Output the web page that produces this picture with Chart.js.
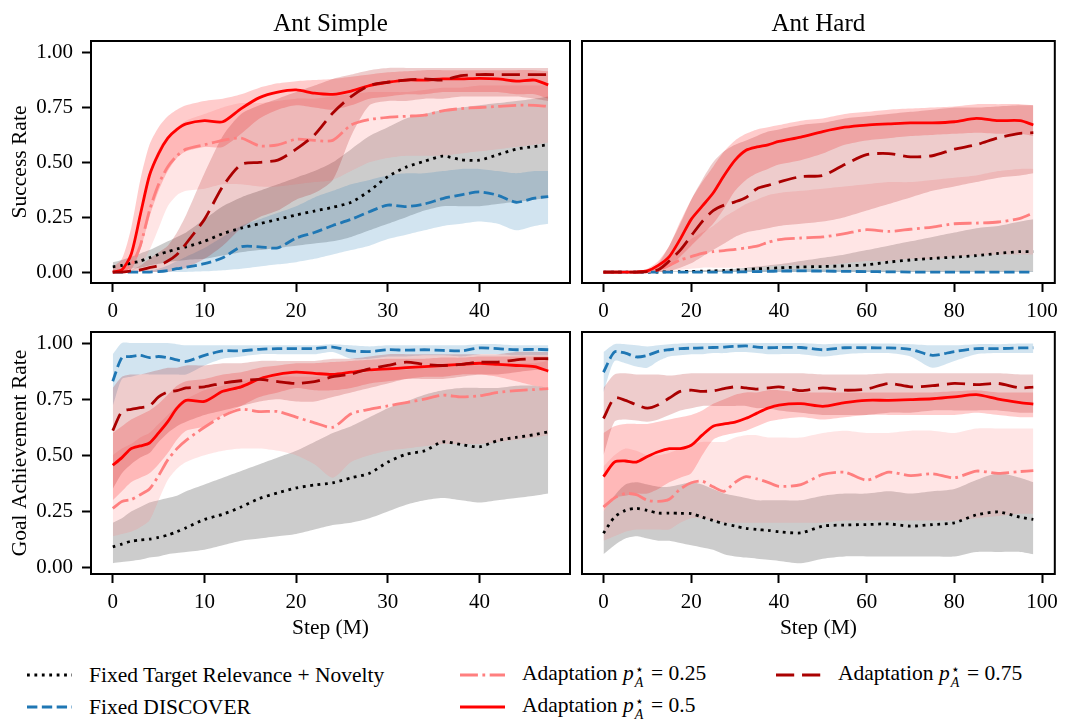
<!DOCTYPE html>
<html>
<head>
<meta charset="utf-8">
<script src="https://cdn.jsdelivr.net/npm/chart.js@4.4.1/dist/chart.umd.min.js"></script>
<style>
  body { margin: 0; background: #fff; width: 1065px; height: 721px; overflow: hidden; position: relative;
         font-family: "Liberation Serif", "Times New Roman", serif; }
  canvas { position: absolute; }
  .key { position: absolute; height: 30px; display: flex; align-items: center; font-size: 21.5px; color: #000; white-space: nowrap; }
  .key svg { margin-right: 17px; }
  .ss { display: inline-flex; flex-direction: column; font-size: 14px; line-height: 13px; vertical-align: 6px; margin: 0 2px 0 1px; }
  .ss .dn { font-style: italic; }
</style>
</head>
<body>
<canvas id="simpleSuccess" width="572" height="325" style="left:0;top:0"></canvas>
<canvas id="hardSuccess" width="495" height="325" style="left:570px;top:0"></canvas>
<canvas id="simpleGoal" width="572" height="340" style="left:0;top:310px"></canvas>
<canvas id="hardGoal" width="495" height="340" style="left:570px;top:310px"></canvas>
<div id="legend"></div>
<script>
// training steps (millions)
const simpleSteps = [0,1,2,3,4,5,6,7,8,10,12,14,16,18,20,22,24,26,28,30,32,34,36,38,40,42,44,46,47.5];
const hardSteps = [0,2.5,5,7.5,10,12.5,15,17.5,20,22.5,25,27.5,30,32.5,35,37.5,40,45,50,55,60,65,70,75,80,85,90,95,98];

const methodNames = ['Fixed Target Relevance + Novelty', 'Fixed DISCOVER', 'Adaptation', 'Adaptation', 'Adaptation'];
const adaptTargets = [null, null, '0.25', '0.5', '0.75'];

// Ant Simple - success rate
const simpleSuccessTrn   = [0.024,0.03,0.04,0.05,0.065,0.08,0.093,0.105,0.115,0.14,0.175,0.2,0.22,0.24,0.26,0.278,0.295,0.318,0.37,0.435,0.478,0.505,0.528,0.512,0.51,0.535,0.56,0.572,0.58];
const simpleSuccessTrnLo = [0.005,0.01,0.015,0.02,0.03,0.038,0.045,0.05,0.055,0.06,0.075,0.09,0.1,0.11,0.12,0.13,0.14,0.16,0.19,0.22,0.25,0.28,0.3,0.3,0.3,0.31,0.32,0.33,0.34];
const simpleSuccessTrnHi = [0.045,0.055,0.07,0.085,0.1,0.12,0.14,0.16,0.18,0.24,0.3,0.34,0.37,0.4,0.43,0.46,0.5,0.56,0.62,0.66,0.7,0.72,0.74,0.75,0.76,0.77,0.78,0.79,0.8];
const simpleSuccessDisc   = [0,0,0,0,0,0.002,0.007,0.015,0.022,0.038,0.065,0.115,0.115,0.11,0.155,0.18,0.212,0.24,0.275,0.305,0.298,0.31,0.335,0.352,0.365,0.35,0.318,0.337,0.344];
const simpleSuccessDiscLo = [0,0,0,0,0,0,0,0,0,0.003,0.008,0.015,0.025,0.035,0.045,0.06,0.08,0.1,0.12,0.15,0.17,0.19,0.21,0.22,0.23,0.22,0.19,0.21,0.22];
const simpleSuccessDiscHi = [0,0,0,0.002,0.005,0.015,0.03,0.05,0.07,0.11,0.16,0.21,0.24,0.27,0.3,0.34,0.37,0.4,0.42,0.44,0.45,0.45,0.46,0.47,0.47,0.46,0.45,0.46,0.46];
const simpleSuccessA25   = [0,0.005,0.03,0.12,0.28,0.4,0.48,0.53,0.56,0.58,0.6,0.61,0.575,0.58,0.605,0.6,0.6,0.67,0.695,0.705,0.71,0.715,0.735,0.745,0.75,0.755,0.76,0.76,0.755];
const simpleSuccessA25Lo = [0,0,0.005,0.03,0.1,0.2,0.3,0.35,0.37,0.38,0.4,0.4,0.39,0.39,0.4,0.41,0.42,0.46,0.5,0.52,0.53,0.53,0.53,0.54,0.55,0.56,0.57,0.58,0.59];
const simpleSuccessA25Hi = [0.002,0.02,0.08,0.25,0.45,0.56,0.62,0.66,0.69,0.72,0.75,0.77,0.77,0.78,0.79,0.79,0.8,0.81,0.82,0.82,0.82,0.83,0.84,0.84,0.85,0.85,0.85,0.85,0.85];
const simpleSuccessA50   = [0,0.01,0.08,0.26,0.44,0.54,0.61,0.65,0.675,0.69,0.685,0.745,0.795,0.82,0.83,0.815,0.81,0.825,0.85,0.865,0.875,0.875,0.88,0.88,0.883,0.88,0.87,0.875,0.853];
const simpleSuccessA50Lo = [0,0,0.01,0.1,0.25,0.37,0.46,0.52,0.55,0.57,0.57,0.63,0.7,0.74,0.76,0.75,0.74,0.76,0.79,0.8,0.81,0.81,0.82,0.82,0.82,0.82,0.81,0.81,0.79];
const simpleSuccessA50Hi = [0.02,0.06,0.2,0.42,0.58,0.66,0.71,0.74,0.76,0.78,0.79,0.81,0.84,0.86,0.87,0.875,0.88,0.89,0.9,0.91,0.915,0.92,0.92,0.92,0.92,0.92,0.92,0.92,0.915];
const simpleSuccessA75   = [0,0,0.005,0.01,0.02,0.03,0.05,0.08,0.13,0.24,0.39,0.49,0.5,0.51,0.56,0.625,0.725,0.8,0.85,0.865,0.875,0.88,0.875,0.895,0.9,0.9,0.9,0.9,0.9];
const simpleSuccessA75Lo = [0,0,0,0,0,0,0,0.01,0.02,0.06,0.12,0.2,0.25,0.28,0.33,0.36,0.42,0.62,0.76,0.78,0.78,0.79,0.79,0.8,0.8,0.8,0.8,0.79,0.78];
const simpleSuccessA75Hi = [0,0.003,0.01,0.03,0.06,0.09,0.12,0.18,0.26,0.45,0.62,0.72,0.76,0.79,0.82,0.85,0.88,0.9,0.92,0.93,0.93,0.93,0.93,0.93,0.93,0.93,0.93,0.93,0.93];

// Ant Hard - success rate
const hardSuccessTrn   = [0,0,0,0,0,0,0.001,0.002,0.003,0.004,0.005,0.007,0.009,0.012,0.015,0.017,0.019,0.023,0.025,0.028,0.033,0.045,0.055,0.062,0.068,0.075,0.085,0.093,0.093];
const hardSuccessTrnLo = [0,0,0,0,0,0,0,0,0,0,0,0,0,0,0,0,0,0,0,0,0,0,0,0,0,0,0,0,0];
const hardSuccessTrnHi = [0,0,0,0,0.001,0.002,0.003,0.004,0.006,0.008,0.01,0.012,0.015,0.02,0.025,0.03,0.035,0.05,0.065,0.08,0.1,0.12,0.14,0.16,0.18,0.2,0.21,0.23,0.24];
const hardSuccessDisc   = [0,0,0,0,0,0,0,0,0,0,0,0,0,0.001,0.002,0.003,0.004,0.005,0.004,0.003,0.002,0.001,0,0,0,0,0,0,0];
const hardSuccessDiscLo = [0,0,0,0,0,0,0,0,0,0,0,0,0,0,0,0,0,0,0,0,0,0,0,0,0,0,0,0,0];
const hardSuccessDiscHi = [0,0,0,0,0,0,0,0.001,0.002,0.003,0.004,0.005,0.006,0.008,0.01,0.012,0.013,0.014,0.012,0.01,0.008,0.006,0.004,0.003,0.002,0.002,0.002,0.002,0.002];
const hardSuccessA25   = [0,0,0,0,0.003,0.01,0.03,0.055,0.07,0.085,0.093,0.098,0.103,0.11,0.118,0.135,0.148,0.155,0.16,0.175,0.193,0.185,0.195,0.205,0.22,0.223,0.228,0.245,0.27];
const hardSuccessA25Lo = [0,0,0,0,0,0,0.005,0.01,0.015,0.02,0.02,0.02,0.02,0.02,0.02,0.025,0.03,0.03,0.03,0.04,0.05,0.05,0.06,0.06,0.07,0.075,0.08,0.08,0.08];
const hardSuccessA25Hi = [0,0,0.001,0.002,0.01,0.03,0.07,0.11,0.15,0.18,0.21,0.25,0.28,0.31,0.33,0.35,0.36,0.37,0.38,0.39,0.4,0.41,0.41,0.42,0.43,0.44,0.46,0.47,0.47];
const hardSuccessA50   = [0,0,0,0,0.005,0.03,0.07,0.15,0.24,0.3,0.36,0.44,0.51,0.555,0.57,0.58,0.595,0.615,0.64,0.66,0.67,0.675,0.68,0.68,0.685,0.7,0.69,0.69,0.67];
const hardSuccessA50Lo = [0,0,0,0,0,0.01,0.025,0.07,0.12,0.17,0.22,0.29,0.37,0.42,0.45,0.47,0.49,0.51,0.54,0.58,0.6,0.61,0.62,0.625,0.63,0.635,0.63,0.63,0.62];
const hardSuccessA50Hi = [0,0.001,0.002,0.005,0.015,0.05,0.12,0.23,0.33,0.41,0.48,0.55,0.6,0.63,0.65,0.66,0.67,0.69,0.7,0.72,0.73,0.74,0.745,0.75,0.755,0.765,0.765,0.765,0.76];
const hardSuccessA75   = [0,0,0,0,0.002,0.01,0.05,0.1,0.165,0.23,0.28,0.305,0.32,0.34,0.38,0.395,0.41,0.435,0.44,0.49,0.535,0.54,0.525,0.53,0.56,0.58,0.612,0.632,0.635];
const hardSuccessA75Lo = [0,0,0,0,0,0,0.005,0.02,0.04,0.07,0.1,0.13,0.16,0.18,0.19,0.2,0.21,0.22,0.23,0.25,0.28,0.31,0.34,0.37,0.39,0.41,0.43,0.44,0.45];
const hardSuccessA75Hi = [0,0.001,0.002,0.005,0.01,0.04,0.12,0.22,0.33,0.42,0.5,0.55,0.58,0.6,0.62,0.64,0.65,0.67,0.68,0.7,0.71,0.72,0.73,0.74,0.75,0.75,0.755,0.76,0.76];

// Ant Simple - goal achievement rate
const simpleGoalTrn   = [0.093,0.105,0.118,0.123,0.127,0.135,0.145,0.16,0.178,0.215,0.238,0.27,0.308,0.333,0.355,0.368,0.378,0.4,0.42,0.47,0.505,0.52,0.56,0.548,0.538,0.566,0.58,0.592,0.605];
const simpleGoalTrnLo = [0.02,0.025,0.03,0.035,0.045,0.05,0.06,0.065,0.07,0.08,0.1,0.12,0.13,0.14,0.15,0.17,0.19,0.2,0.22,0.25,0.28,0.3,0.31,0.3,0.29,0.3,0.31,0.32,0.33];
const simpleGoalTrnHi = [0.2,0.22,0.25,0.27,0.29,0.3,0.31,0.32,0.34,0.37,0.4,0.43,0.46,0.49,0.52,0.56,0.6,0.63,0.67,0.71,0.74,0.77,0.79,0.8,0.8,0.8,0.81,0.81,0.8];
const simpleGoalDisc   = [0.83,0.935,0.94,0.945,0.935,0.94,0.935,0.925,0.918,0.945,0.965,0.965,0.972,0.975,0.975,0.975,0.982,0.965,0.962,0.97,0.968,0.97,0.967,0.965,0.978,0.975,0.97,0.972,0.97];
const simpleGoalDiscLo = [0.72,0.84,0.85,0.86,0.86,0.86,0.86,0.86,0.86,0.9,0.93,0.94,0.95,0.95,0.95,0.95,0.96,0.93,0.93,0.94,0.94,0.945,0.945,0.94,0.95,0.95,0.945,0.945,0.945];
const simpleGoalDiscHi = [0.95,1,1,1,1,1,1,0.995,0.99,0.99,0.99,0.99,0.99,0.99,0.99,0.99,0.995,0.99,0.985,0.99,0.99,0.99,0.99,0.99,0.995,0.995,0.99,0.99,0.99];
const simpleGoalA25   = [0.264,0.295,0.303,0.325,0.35,0.41,0.48,0.53,0.567,0.625,0.675,0.705,0.695,0.695,0.67,0.645,0.625,0.685,0.705,0.72,0.735,0.75,0.768,0.76,0.765,0.78,0.788,0.793,0.797];
const simpleGoalA25Lo = [0.14,0.15,0.16,0.18,0.21,0.3,0.39,0.44,0.47,0.5,0.52,0.53,0.53,0.52,0.5,0.46,0.4,0.47,0.5,0.52,0.53,0.54,0.55,0.55,0.55,0.56,0.57,0.58,0.59];
const simpleGoalA25Hi = [0.5,0.53,0.55,0.58,0.6,0.64,0.68,0.72,0.75,0.79,0.81,0.83,0.84,0.85,0.85,0.85,0.85,0.86,0.87,0.88,0.88,0.89,0.9,0.9,0.9,0.91,0.91,0.91,0.92];
const simpleGoalA50   = [0.456,0.49,0.53,0.542,0.555,0.6,0.65,0.71,0.745,0.74,0.785,0.805,0.84,0.86,0.87,0.865,0.86,0.87,0.88,0.885,0.89,0.895,0.9,0.905,0.91,0.905,0.9,0.895,0.875];
const simpleGoalA50Lo = [0.3,0.34,0.38,0.4,0.42,0.46,0.51,0.57,0.61,0.63,0.68,0.72,0.76,0.78,0.8,0.79,0.79,0.8,0.82,0.83,0.84,0.85,0.85,0.86,0.86,0.85,0.83,0.81,0.8];
const simpleGoalA50Hi = [0.6,0.63,0.66,0.68,0.7,0.73,0.77,0.81,0.83,0.84,0.86,0.87,0.89,0.9,0.91,0.91,0.915,0.92,0.925,0.93,0.93,0.93,0.935,0.935,0.94,0.94,0.94,0.94,0.94];
const simpleGoalA75   = [0.61,0.695,0.705,0.712,0.72,0.76,0.782,0.788,0.8,0.805,0.822,0.832,0.838,0.828,0.82,0.828,0.85,0.862,0.885,0.9,0.915,0.905,0.9,0.905,0.915,0.915,0.925,0.93,0.93];
const simpleGoalA75Lo = [0.35,0.42,0.46,0.49,0.51,0.56,0.6,0.63,0.65,0.68,0.7,0.72,0.74,0.75,0.74,0.74,0.76,0.78,0.8,0.82,0.84,0.84,0.84,0.85,0.86,0.86,0.87,0.88,0.88];
const simpleGoalA75Hi = [0.8,0.85,0.86,0.86,0.87,0.88,0.89,0.89,0.9,0.9,0.91,0.91,0.92,0.92,0.92,0.92,0.93,0.93,0.94,0.95,0.95,0.95,0.95,0.95,0.95,0.95,0.96,0.96,0.96];

// Ant Hard - goal achievement rate
const hardGoalTrn   = [0.153,0.225,0.255,0.264,0.255,0.243,0.243,0.242,0.241,0.225,0.21,0.195,0.185,0.175,0.17,0.166,0.16,0.155,0.185,0.19,0.192,0.195,0.185,0.192,0.2,0.235,0.248,0.225,0.215];
const hardGoalTrnLo = [0.06,0.1,0.13,0.14,0.13,0.12,0.12,0.11,0.1,0.09,0.08,0.06,0.05,0.045,0.04,0.035,0.03,0.02,0.04,0.05,0.05,0.05,0.05,0.05,0.05,0.07,0.07,0.07,0.06];
const hardGoalTrnHi = [0.25,0.32,0.37,0.38,0.37,0.36,0.36,0.37,0.38,0.37,0.35,0.33,0.32,0.31,0.3,0.3,0.3,0.3,0.32,0.33,0.33,0.34,0.33,0.34,0.35,0.39,0.42,0.4,0.38];
const hardGoalDisc   = [0.87,0.96,0.955,0.938,0.945,0.963,0.97,0.975,0.977,0.978,0.98,0.982,0.985,0.987,0.982,0.979,0.98,0.98,0.97,0.979,0.979,0.978,0.972,0.945,0.962,0.975,0.975,0.978,0.979];
const hardGoalDiscLo = [0.78,0.92,0.91,0.895,0.89,0.92,0.94,0.945,0.95,0.95,0.955,0.955,0.96,0.96,0.955,0.95,0.95,0.95,0.94,0.95,0.955,0.955,0.94,0.89,0.92,0.95,0.955,0.955,0.955];
const hardGoalDiscHi = [0.96,0.995,0.995,0.99,0.985,0.99,0.995,0.998,1,1,1,1,1,1,1,1,1,1,0.995,0.998,0.998,0.998,0.995,0.99,0.99,0.995,0.995,0.998,0.998];
const hardGoalA25   = [0.27,0.31,0.33,0.325,0.3,0.295,0.305,0.35,0.378,0.385,0.36,0.34,0.38,0.405,0.395,0.38,0.362,0.37,0.415,0.425,0.39,0.425,0.41,0.418,0.4,0.43,0.42,0.428,0.432];
const hardGoalA25Lo = [0.12,0.14,0.16,0.17,0.17,0.17,0.17,0.2,0.22,0.22,0.21,0.2,0.2,0.2,0.2,0.2,0.2,0.2,0.2,0.21,0.21,0.21,0.21,0.21,0.21,0.22,0.23,0.24,0.24];
const hardGoalA25Hi = [0.45,0.5,0.53,0.52,0.5,0.5,0.51,0.53,0.55,0.56,0.56,0.56,0.58,0.59,0.59,0.58,0.58,0.58,0.6,0.61,0.6,0.6,0.61,0.61,0.6,0.62,0.62,0.62,0.62];
const hardGoalA50   = [0.405,0.47,0.475,0.47,0.495,0.516,0.53,0.53,0.545,0.59,0.63,0.64,0.648,0.665,0.688,0.71,0.724,0.73,0.718,0.735,0.745,0.745,0.748,0.752,0.76,0.77,0.75,0.735,0.728];
const hardGoalA50Lo = [0.25,0.31,0.32,0.33,0.33,0.35,0.38,0.4,0.42,0.5,0.57,0.59,0.6,0.61,0.63,0.65,0.66,0.67,0.66,0.67,0.68,0.68,0.68,0.68,0.68,0.69,0.68,0.67,0.67];
const hardGoalA50Hi = [0.6,0.63,0.64,0.64,0.64,0.65,0.66,0.67,0.68,0.7,0.73,0.75,0.77,0.78,0.78,0.79,0.79,0.78,0.78,0.78,0.78,0.78,0.78,0.78,0.785,0.79,0.78,0.78,0.78];
const hardGoalA75   = [0.664,0.755,0.745,0.725,0.71,0.725,0.755,0.785,0.79,0.785,0.787,0.797,0.805,0.8,0.795,0.8,0.805,0.788,0.8,0.79,0.795,0.82,0.805,0.81,0.82,0.815,0.82,0.8,0.804];
const hardGoalA75Lo = [0.5,0.65,0.66,0.655,0.65,0.66,0.68,0.7,0.71,0.72,0.72,0.72,0.72,0.72,0.71,0.71,0.7,0.69,0.68,0.68,0.68,0.69,0.69,0.7,0.7,0.7,0.7,0.69,0.69];
const hardGoalA75Hi = [0.8,0.86,0.865,0.86,0.86,0.86,0.855,0.86,0.865,0.865,0.865,0.865,0.865,0.865,0.865,0.865,0.865,0.865,0.86,0.86,0.86,0.865,0.865,0.865,0.865,0.865,0.865,0.86,0.86];

const SERIF = '"Liberation Serif", "Times New Roman", serif';
Chart.defaults.font.family = SERIF;
Chart.defaults.color = '#000';

const LW = 2.8;
// one entry per method: line colour, band colour, dash pattern (scaled by line width)
const lineStyles = [
  { color: '#000000', band: 'rgba(0,0,0,0.2)',       dash: [1, 1.65] },
  { color: '#1f77b4', band: 'rgba(31,119,180,0.2)',  dash: [3.7, 1.6] },
  { color: '#ff7f7f', band: 'rgba(255,127,127,0.2)', dash: [6.4, 1.6, 1, 1.6] },
  { color: '#ff0000', band: 'rgba(255,0,0,0.2)',     dash: [] },
  { color: '#aa0000', band: 'rgba(170,0,0,0.2)',     dash: [6.5, 2.8] },
].map(s => ({ ...s, dash: s.dash.map(d => d * LW) }));

// black box round the plot area + panel heading
const framePlugin = {
  id: 'frame',
  afterDraw(chart, args, opts) {
    const { ctx, chartArea: a } = chart;
    ctx.save();
    ctx.strokeStyle = '#000';
    ctx.lineWidth = 2;
    ctx.strokeRect(a.left, a.top, a.right - a.left, a.bottom - a.top);
    if (opts.title) {
      ctx.fillStyle = '#000';
      ctx.font = '25px ' + SERIF;
      ctx.textAlign = 'center';
      ctx.textBaseline = 'alphabetic';
      ctx.fillText(opts.title, (a.left + a.right) / 2, a.top - 10);
    }
    ctx.restore();
  }
};

function pts(xs, ys) {
  return xs.map((x, i) => ({ x: x, y: ys[i] }));
}

function buildDatasets(steps, series) {
  const ds = [];
  series.forEach((s, i) => {
    const st = lineStyles[i];
    ds.push({ data: pts(steps, s[2]), fill: '+1', backgroundColor: st.band,
              borderColor: 'rgba(0,0,0,0)', borderWidth: 0, order: 20 - i });
    ds.push({ data: pts(steps, s[1]), fill: false,
              borderColor: 'rgba(0,0,0,0)', borderWidth: 0, order: 20 - i });
    ds.push({ data: pts(steps, s[0]), fill: false, borderColor: st.color, borderWidth: LW,
              borderDash: st.dash, borderCapStyle: 'butt', order: 10 - i });
  });
  return ds;
}

function makePanel(id, steps, series, o) {
  const xSpan = steps[steps.length - 1];
  const tickFont = { size: 21 };
  const yAxis = o.yTitle ? {
    min: o.yMin, max: o.yMax,
    ticks: { stepSize: 0.25, includeBounds: false, font: tickFont, padding: 9,
             callback: v => v.toFixed(2) },
    grid: { display: true, drawOnChartArea: false, drawTicks: true, tickLength: 9, tickWidth: 2, tickColor: '#000' },
    border: { display: false },
    title: { display: true, text: o.yTitle, font: { size: 21.5 }, padding: { top: 7, bottom: 0 } },
    afterFit: s => { s.width = 91; }
  } : {
    min: o.yMin, max: o.yMax,
    ticks: { display: false, stepSize: 0.25 },
    grid: { display: false },
    border: { display: false },
    afterFit: s => { s.width = 12; }
  };
  return new Chart(document.getElementById(id), {
    type: 'line',
    data: { datasets: buildDatasets(steps, series) },
    options: {
      responsive: false,
      animation: false,
      devicePixelRatio: 1,
      layout: { padding: o.pad },
      elements: { point: { radius: 0 }, line: { tension: 0.25, borderJoinStyle: 'round' } },
      scales: {
        x: {
          type: 'linear',
          min: -xSpan * 0.05, max: xSpan * 1.05,
          ticks: { stepSize: o.xStep, includeBounds: false, font: tickFont, padding: 7, maxRotation: 0, autoSkip: false },
          grid: { display: true, drawOnChartArea: false, drawTicks: true, tickLength: 9, tickWidth: 2, tickColor: '#000' },
          border: { display: false },
          title: { display: !!o.xTitle, text: o.xTitle || '', font: { size: 21.5 }, padding: { top: 0, bottom: 9 } },
          afterFit: s => { s.height = o.xHeight; }
        },
        y: yAxis
      },
      plugins: { legend: { display: false }, tooltip: { enabled: false }, frame: { title: o.title } }
    },
    plugins: [framePlugin]
  });
}

makePanel('simpleSuccess', simpleSteps, [
  [simpleSuccessTrn, simpleSuccessTrnLo, simpleSuccessTrnHi],
  [simpleSuccessDisc, simpleSuccessDiscLo, simpleSuccessDiscHi],
  [simpleSuccessA25, simpleSuccessA25Lo, simpleSuccessA25Hi],
  [simpleSuccessA50, simpleSuccessA50Lo, simpleSuccessA50Hi],
  [simpleSuccessA75, simpleSuccessA75Lo, simpleSuccessA75Hi]
], { title: 'Ant Simple', yTitle: 'Success Rate', yMin: -0.05, yMax: 1.053, xStep: 10,
     xHeight: 42, pad: { top: 41, right: 2, left: 0, bottom: 0 } });

makePanel('hardSuccess', hardSteps, [
  [hardSuccessTrn, hardSuccessTrnLo, hardSuccessTrnHi],
  [hardSuccessDisc, hardSuccessDiscLo, hardSuccessDiscHi],
  [hardSuccessA25, hardSuccessA25Lo, hardSuccessA25Hi],
  [hardSuccessA50, hardSuccessA50Lo, hardSuccessA50Hi],
  [hardSuccessA75, hardSuccessA75Lo, hardSuccessA75Hi]
], { title: 'Ant Hard', yMin: -0.05, yMax: 1.053, xStep: 20,
     xHeight: 42, pad: { top: 41, right: 6, left: 0, bottom: 0 } });

makePanel('simpleGoal', simpleSteps, [
  [simpleGoalTrn, simpleGoalTrnLo, simpleGoalTrnHi],
  [simpleGoalDisc, simpleGoalDiscLo, simpleGoalDiscHi],
  [simpleGoalA25, simpleGoalA25Lo, simpleGoalA25Hi],
  [simpleGoalA50, simpleGoalA50Lo, simpleGoalA50Hi],
  [simpleGoalA75, simpleGoalA75Lo, simpleGoalA75Hi]
], { yTitle: 'Goal Achievement Rate', xTitle: 'Step (M)', yMin: -0.028, yMax: 1.049, xStep: 10,
     xHeight: 76, pad: { top: 22, right: 2, left: 0, bottom: 0 } });

makePanel('hardGoal', hardSteps, [
  [hardGoalTrn, hardGoalTrnLo, hardGoalTrnHi],
  [hardGoalDisc, hardGoalDiscLo, hardGoalDiscHi],
  [hardGoalA25, hardGoalA25Lo, hardGoalA25Hi],
  [hardGoalA50, hardGoalA50Lo, hardGoalA50Hi],
  [hardGoalA75, hardGoalA75Lo, hardGoalA75Hi]
], { xTitle: 'Step (M)', yMin: -0.028, yMax: 1.049, xStep: 20,
     xHeight: 76, pad: { top: 22, right: 6, left: 0, bottom: 0 } });

// legend: three columns under the panels
const keySpots = [[27, 660], [27, 692], [460, 660], [460, 692], [776, 660]];
const legend = document.getElementById('legend');
methodNames.forEach((name, i) => {
  const st = lineStyles[i];
  const div = document.createElement('div');
  div.className = 'key';
  div.style.left = keySpots[i][0] + 'px';
  div.style.top = keySpots[i][1] + 'px';
  const dash = st.dash.length ? ` stroke-dasharray="${st.dash.join(' ')}"` : '';
  let label = name;
  if (adaptTargets[i]) {
    label += ` <i>p</i><span class="ss"><span>⋆</span><span class="dn">A</span></span> = ${adaptTargets[i]}`;
  }
  div.innerHTML = `<svg width="45" height="10"><line x1="0" y1="5" x2="45" y2="5" stroke="${st.color}" stroke-width="${LW}"${dash}/></svg><span>${label}</span>`;
  legend.appendChild(div);
});
</script>
</body>
</html>
